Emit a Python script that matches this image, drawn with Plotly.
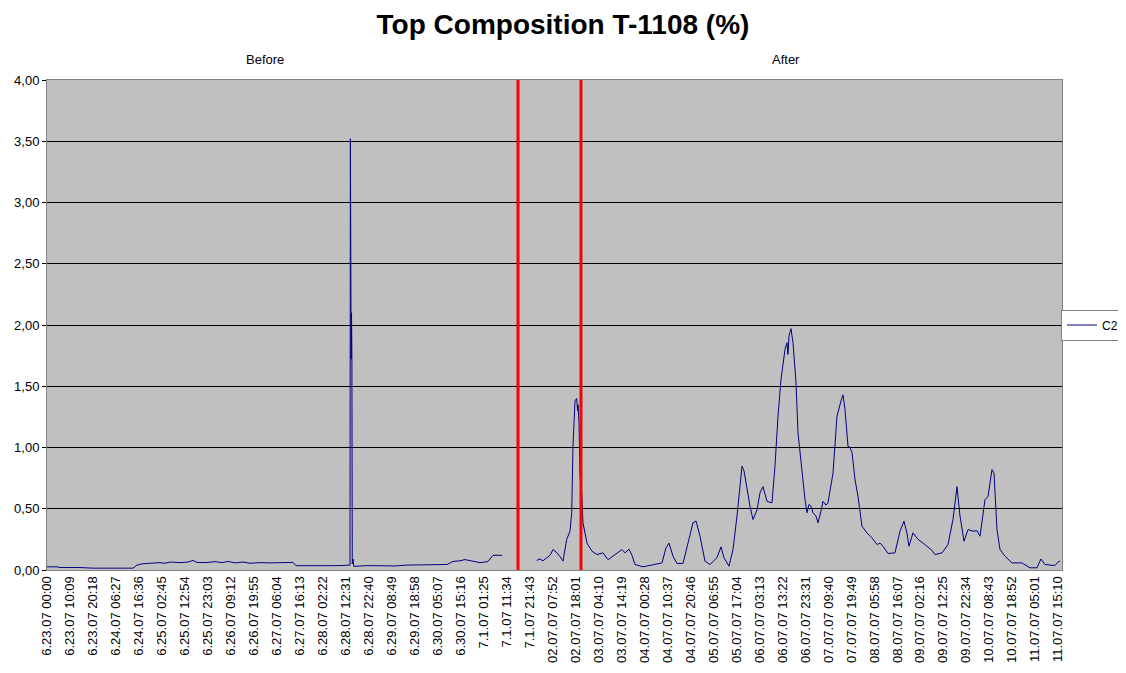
import plotly.graph_objects as go

# ---------------- data ----------------
tick_labels = [
    "6.23.07 00:00", "6.23.07 10:09", "6.23.07 20:18", "6.24.07 06:27", "6.24.07 16:36",
    "6.25.07 02:45", "6.25.07 12:54", "6.25.07 23:03", "6.26.07 09:12", "6.26.07 19:55",
    "6.27.07 06:04", "6.27.07 16:13", "6.28.07 02:22", "6.28.07 12:31", "6.28.07 22:40",
    "6.29.07 08:49", "6.29.07 18:58", "6.30.07 05:07", "6.30.07 15:16", "7.1.07 01:25",
    "7.1.07 11:34", "7.1.07 21:43", "02.07.07 07:52", "02.07.07 18:01", "03.07.07 04:10",
    "03.07.07 14:19", "04.07.07 00:28", "04.07.07 10:37", "04.07.07 20:46", "05.07.07 06:55",
    "05.07.07 17:04", "06.07.07 03:13", "06.07.07 13:22", "06.07.07 23:31", "07.07.07 09:40",
    "07.07.07 19:49", "08.07.07 05:58", "08.07.07 16:07", "09.07.07 02:16", "09.07.07 12:25",
    "09.07.07 22:34", "10.07.07 08:43", "10.07.07 18:52", "11.07.07 05:01", "11.07.07 15:10",
]
label_step_min = 609  # minutes between labelled samples

# elapsed minutes of each sample and C2 value (%)
before_min = [0, 133, 265, 345, 742, 795, 875, 1219, 1670, 2067, 2279, 2385, 2518, 2730,
              2995, 3127, 3260, 3525, 3737, 3869, 3975, 4187, 4452, 4638, 4797, 4982, 5194,
              5380, 5645, 5910, 6175, 6440, 6519, 6599, 6970, 7235, 7500, 7765, 8003, 8030,
              8040, 8050, 8060, 8070, 8080, 8090, 8110, 8130, 8162, 8427, 8825, 9222, 9540,
              9885, 10415, 10600, 10759, 10945, 11077, 11210, 11342, 11475, 11607, 11687,
              11820, 11925, 12005, 12058]
before_c2 = [0.026, 0.028, 0.026, 0.02, 0.02, 0.026, 0.02, 0.015, 0.016, 0.015, 0.015, 0.04,
             0.05, 0.055, 0.06, 0.055, 0.065, 0.06, 0.065, 0.078, 0.062, 0.06, 0.068, 0.06,
             0.07, 0.058, 0.065, 0.055, 0.06, 0.058, 0.06, 0.06, 0.062, 0.035, 0.033, 0.037,
             0.035, 0.036, 0.035, 0.04, 3.52, 2.48, 1.72, 2.10, 1.75, 0.05, 0.09, 0.03, 0.03,
             0.035, 0.035, 0.033, 0.04, 0.042, 0.04, 0.045, 0.07, 0.075, 0.085, 0.075, 0.07,
             0.06, 0.065, 0.07, 0.12, 0.12, 0.115, 0.12]

after_min = [12978, 13065, 13144, 13244, 13330, 13409, 13515, 13595, 13674, 13772, 13807,
             13860, 13905, 13939, 13992, 14036, 14063, 14072, 14099, 14125, 14170, 14204,
             14310, 14443, 14575, 14655, 14734, 14867, 14973, 15052, 15158, 15237, 15317,
             15423, 15502, 15582, 15794, 16059, 16297, 16403, 16483, 16589, 16695, 16854,
             16987, 17119, 17199, 17305, 17437, 17570, 17702, 17755, 17861, 17941, 18073,
             18179, 18285, 18312, 18418, 18471, 18550, 18630, 18709, 18815, 18895, 18974,
             19080, 19213, 19292, 19372, 19451, 19557, 19610, 19637, 19663, 19716, 19769,
             19849, 19902, 20008, 20087, 20140, 20193, 20246, 20299, 20379, 20432, 20511,
             20564, 20644, 20697, 20829, 20935, 21041, 21094, 21147, 21227, 21280, 21333,
             21412, 21492, 21598, 21730, 21863, 21995, 22075, 22154, 22287, 22472, 22605,
             22711, 22790, 22843, 22949, 23082, 23214, 23320, 23453, 23532, 23718, 23877,
             24009, 24115, 24195, 24301, 24407, 24540, 24646, 24725, 24858, 24937, 24990,
             25043, 25096, 25175, 25255, 25387, 25573, 25705, 25838, 26050, 26235, 26341,
             26447, 26580, 26712, 26818, 26845]
after_c2 = [0.078, 0.09, 0.075, 0.10, 0.12, 0.167, 0.14, 0.11, 0.072, 0.25, 0.28,
            0.317, 0.467, 1.01, 1.38, 1.40, 1.30, 1.35, 1.20, 0.77, 0.63, 0.385,
            0.22, 0.153, 0.126, 0.13, 0.14, 0.084, 0.11, 0.126, 0.15, 0.167, 0.14,
            0.17, 0.12, 0.045, 0.026, 0.042, 0.058, 0.18, 0.22, 0.113, 0.053, 0.053,
            0.22, 0.385, 0.40, 0.276, 0.072, 0.045, 0.085, 0.10, 0.189, 0.10, 0.031,
            0.167, 0.44, 0.52, 0.848, 0.81, 0.66, 0.52, 0.412, 0.49, 0.63, 0.68,
            0.56, 0.548, 0.85, 1.256, 1.555, 1.80, 1.855, 1.76, 1.91, 1.97, 1.855,
            1.53, 1.12, 0.79, 0.575, 0.467, 0.535, 0.52, 0.467, 0.44, 0.385, 0.48,
            0.56, 0.53, 0.548, 0.79, 1.256, 1.38, 1.43, 1.31, 1.01, 1.00, 0.96,
            0.74, 0.60, 0.357, 0.303, 0.262, 0.208, 0.22, 0.194, 0.135, 0.14, 0.317,
            0.398, 0.30, 0.194, 0.303, 0.25, 0.22, 0.194, 0.16, 0.126, 0.14, 0.208,
            0.412, 0.68, 0.44, 0.235, 0.33, 0.317, 0.32, 0.276, 0.575, 0.60, 0.72,
            0.82, 0.79, 0.33, 0.167, 0.113, 0.058, 0.06, 0.058, 0.018, 0.018, 0.09,
            0.045, 0.04, 0.037, 0.072, 0.07]

cut_start_min = 12482   # red marker lines (start / end of the change)
cut_end_min = 14151
axis_end_min = 26898

y_ticks = [0, 0.5, 1, 1.5, 2, 2.5, 3, 3.5, 4]

# ---------------- figure ----------------
x_vals = before_min + [None] + after_min
y_vals = before_c2 + [None] + after_c2

fig = go.Figure()
fig.add_trace(go.Scatter(
    x=x_vals, y=y_vals, mode="lines", name="C2",
    line=dict(color="#000080", width=1), connectgaps=False,
))

for xm in (cut_start_min, cut_end_min):
    fig.add_shape(type="line", xref="x", yref="paper", x0=xm, x1=xm, y0=0, y1=1,
                  line=dict(color="#FF0000", width=3), layer="above")

font_name = "Liberation Sans, Arial, sans-serif"

# page has an 8px body margin, so the figure is 8px smaller than the window
W, H = 1118, 665
fig.update_layout(
    width=W, height=H,
    margin=dict(l=39, r=64, t=72, b=103, autoexpand=False),
    paper_bgcolor="white", plot_bgcolor="#C0C0C0",
    font=dict(family=font_name, size=12, color="black"),
    title=dict(text="<b>Top Composition T-1108 (%)</b>", x=555 / W, xanchor="center",
               y=1 - 16 / H, yanchor="middle", font=dict(size=28, family=font_name, color="black")),
    showlegend=True,
    legend=dict(xref="container", yref="container", x=1 - 2 / W, xanchor="right",
                y=1 - 317 / H, yanchor="middle",
                bgcolor="white", bordercolor="#808080", borderwidth=1,
                font=dict(size=12, family=font_name), itemwidth=30,
                tracegroupgap=0),
    annotations=[
        dict(text="Before", xref="paper", yref="paper", x=(257 - 39) / 1015, y=1 + 20 / 490,
             xanchor="center", yanchor="middle",
             showarrow=False, font=dict(size=13, family=font_name)),
        dict(text="After", xref="paper", yref="paper", x=(778 - 39) / 1015, y=1 + 20 / 490,
             xanchor="center", yanchor="middle",
             showarrow=False, font=dict(size=13, family=font_name)),
    ],
)

fig.update_xaxes(
    range=[0, axis_end_min],
    tickmode="array",
    tickvals=[i * label_step_min for i in range(len(tick_labels))],
    ticktext=tick_labels,
    tickangle=-90,
    tickfont=dict(size=13, family=font_name),
    showgrid=False, zeroline=False,
    showline=True, linecolor="#808080", linewidth=1, mirror=True,
    ticks="", automargin=False,
)
fig.update_yaxes(
    range=[0, 4],
    tickmode="array",
    tickvals=y_ticks,
    ticktext=[f"{v:.2f}".replace(".", ",") for v in y_ticks],
    tickfont=dict(size=13, family=font_name),
    showgrid=True, gridcolor="#000000", gridwidth=1,
    zeroline=False,
    showline=True, linecolor="#808080", linewidth=1, mirror=True,
    ticks="outside", ticklen=4, tickcolor="black", automargin=False,
)

fig.write_html("out.html")
